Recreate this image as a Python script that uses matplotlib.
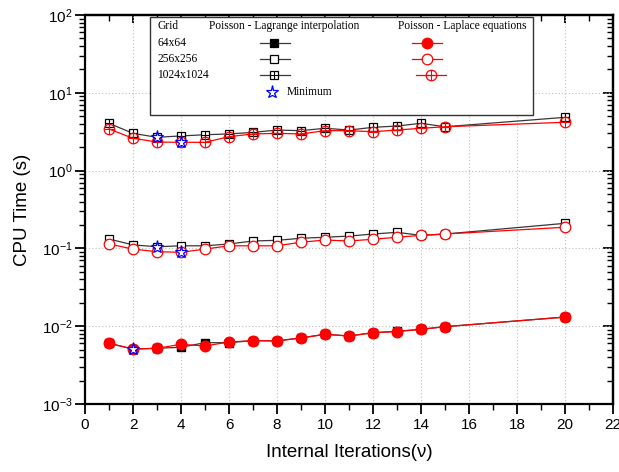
import matplotlib
matplotlib.use("Agg")
import matplotlib.pyplot as plt
from matplotlib.lines import Line2D
from matplotlib.patches import Rectangle
from matplotlib.ticker import LogLocator, MultipleLocator, NullFormatter

plt.rcParams['font.family'] = ['Liberation Sans', 'DejaVu Sans']
plt.rcParams['mathtext.fontset'] = 'custom'
plt.rcParams['mathtext.rm'] = 'Liberation Sans'
plt.rcParams['mathtext.default'] = 'regular'

# ---------------- data ----------------
iterations = [1, 2, 3, 4, 5, 6, 7, 8, 9, 10, 11, 12, 13, 14, 15, 20]

lagrange_64 = [0.00603, 0.00509, 0.00520, 0.00536, 0.00614, 0.00614, 0.00652, 0.00647,
               0.00706, 0.00787, 0.00748, 0.00825, 0.00863, 0.00912, 0.00986, 0.0131]
laplace_64 = [0.00603, 0.00509, 0.00520, 0.00585, 0.00557, 0.00627, 0.00652, 0.00647,
              0.00706, 0.00787, 0.00748, 0.00825, 0.00850, 0.00912, 0.00986, 0.0131]

lagrange_256 = [0.132, 0.111, 0.105, 0.108, 0.108, 0.114, 0.1245, 0.127,
                0.135, 0.139, 0.144, 0.153, 0.161, 0.147, 0.153, 0.210]
laplace_256 = [0.114, 0.098, 0.0907, 0.0891, 0.098, 0.108, 0.108, 0.108,
               0.120, 0.128, 0.1245, 0.131, 0.139, 0.147, 0.153, 0.187]

lagrange_1024 = [4.05, 3.01, 2.68, 2.79, 2.89, 2.96, 3.10, 3.32,
                 3.26, 3.50, 3.32, 3.60, 3.74, 4.05, 3.66, 4.84]
laplace_1024 = [3.43, 2.60, 2.33, 2.31, 2.31, 2.73, 2.96, 3.01,
                2.96, 3.26, 3.26, 3.16, 3.32, 3.50, 3.66, 4.18]

min_x = [2, 3, 4, 3, 4]
min_y = [0.00509, 2.68, 2.31, 0.105, 0.0891]

grid_labels = ["64x64", "256x256", "1024x1024"]

# ---------------- figure ----------------
fig = plt.figure(figsize=(6.19, 4.72), dpi=100)
L, R, T, B = 85, 613, 15, 404
W, H = 619, 472
ax = fig.add_axes([L / W, 1 - B / H, (R - L) / W, (B - T) / H])

ax.set_yscale('log')
ax.set_xlim(0, 22)
ax.set_ylim(1e-3, 1e2)

gridkw = dict(color='#bdbdbd', linestyle=(0, (1, 2)), linewidth=0.8)
ax.grid(True, which='major', **gridkw)
ax.set_axisbelow(True)

lag_kw = dict(color='#383838', linewidth=0.9, zorder=3)
lap_kw = dict(color='red', linewidth=0.9, zorder=4)
sq = 6.3
ci = 7.6

# Lagrange (black squares)
ax.plot(iterations, lagrange_64, marker='s', ms=sq, mfc='black', mec='black', **lag_kw)
ax.plot(iterations, lagrange_256, marker='s', ms=sq, mfc='white', mec='black', mew=0.9, **lag_kw)
ax.plot(iterations, lagrange_1024, marker='s', ms=sq, mfc='white', mec='black', mew=0.9, **lag_kw)
ax.plot(iterations, lagrange_1024, linestyle='none', marker='+', ms=sq, mec='black', mew=0.8, zorder=3.5)

# Laplace (red circles)
ax.plot(iterations, laplace_64, marker='o', ms=ci, mfc='red', mec='red', **lap_kw)
ax.plot(iterations, laplace_256, marker='o', ms=ci, mfc='white', mec='red', mew=0.9, **lap_kw)
ax.plot(iterations, laplace_1024, marker='o', ms=ci, mfc='none', mec='red', mew=0.9, **lap_kw)
ax.plot(iterations, laplace_1024, linestyle='none', marker='+', ms=ci, mec='red', mew=0.8, zorder=4.5)

# minimum stars
ax.plot(min_x, min_y, linestyle='none', marker='*', ms=9.5, mfc='white', mec='blue', mew=0.9, zorder=6)

# ---------------- axes styling ----------------
for s in ax.spines.values():
    s.set_linewidth(1.6)

ax.xaxis.set_major_locator(MultipleLocator(2))
ax.xaxis.set_minor_locator(MultipleLocator(1))
ax.yaxis.set_major_locator(LogLocator(base=10, numticks=10))
ax.yaxis.set_minor_locator(LogLocator(base=10, subs=range(2, 10), numticks=20))
ax.yaxis.set_minor_formatter(NullFormatter())

ax.tick_params(axis='both', which='major', direction='out', length=7, width=1.3,
               labelsize=11, top=False, right=False)
ax.tick_params(axis='both', which='minor', direction='out', length=4, width=1.0,
               top=False, right=False)
ax.tick_params(axis='x', which='major', pad=3)
ax.tick_params(axis='y', which='major', pad=2)

# mirrored inward ticks on top and right
secx = ax.secondary_xaxis('top')
secx.xaxis.set_major_locator(MultipleLocator(2))
secx.xaxis.set_minor_locator(MultipleLocator(1))
secx.tick_params(which='major', direction='in', length=6, width=1.3, labeltop=False)
secx.tick_params(which='minor', direction='in', length=4, width=1.0)
secx.spines['top'].set_linewidth(1.6)

secy = ax.secondary_yaxis('right')
secy.yaxis.set_major_locator(LogLocator(base=10, numticks=10))
secy.yaxis.set_minor_locator(LogLocator(base=10, subs=range(2, 10), numticks=20))
secy.yaxis.set_minor_formatter(NullFormatter())
secy.tick_params(which='major', direction='in', length=7, width=1.3, labelright=False)
secy.tick_params(which='minor', direction='in', length=4, width=1.0)
secy.spines['right'].set_linewidth(1.6)

ax.set_xlabel('Internal Iterations(\u03bd)', fontsize=13.5, labelpad=9)
ax.set_ylabel('CPU Time (s)', fontsize=13.5, labelpad=8)

# ---------------- legend box ----------------
def fx(px):
    return (px - L) / (R - L)

def fy(py):
    return (B - py) / (B - T)

tr = ax.transAxes
ax.add_patch(Rectangle((fx(150), fy(115)), fx(533) - fx(150), fy(17) - fy(115),
                       transform=tr, facecolor='white', edgecolor='#333333',
                       linewidth=1.0, zorder=7))
lfont = dict(family=['Liberation Serif', 'DejaVu Serif'], fontsize=8.3, transform=tr,
             va='center', ha='left', zorder=8)
ax.text(fx(157), fy(26), 'Grid', **lfont)
ax.text(fx(209), fy(26), 'Poisson - Lagrange interpolation', **lfont)
ax.text(fx(398), fy(26), 'Poisson - Laplace equations', **lfont)

rows_y = [42.7, 59, 75]
lag_styles = [dict(marker='s', mfc='black', mec='black'),
              dict(marker='s', mfc='white', mec='black'),
              dict(marker='s', mfc='white', mec='black')]
lap_styles = [dict(marker='o', mfc='red', mec='red'),
              dict(marker='o', mfc='white', mec='red'),
              dict(marker='o', mfc='none', mec='red')]
lap_shift = [0, 0, 4]
for i, (lab, ry) in enumerate(zip(grid_labels, rows_y)):
    ax.text(fx(157), fy(ry), lab, **lfont)
    y = fy(ry)
    ax.add_line(Line2D([fx(260), fx(290)], [y, y], color='#383838', lw=0.9,
                       transform=tr, zorder=8))
    ax.add_line(Line2D([fx(274)], [y], linestyle='none', ms=sq, mew=0.9,
                       transform=tr, zorder=9, **lag_styles[i]))
    s = lap_shift[i]
    ax.add_line(Line2D([fx(412 + s), fx(442 + s)], [y, y], color='red', lw=0.9,
                       transform=tr, zorder=8))
    ax.add_line(Line2D([fx(427 + s)], [y], linestyle='none', ms=ci, mew=0.9,
                       transform=tr, zorder=9, **lap_styles[i]))
    if i == 2:
        ax.add_line(Line2D([fx(274)], [y], linestyle='none', marker='+', ms=sq,
                           mec='black', mew=0.8, transform=tr, zorder=10))
        ax.add_line(Line2D([fx(427 + s)], [y], linestyle='none', marker='+', ms=ci,
                           mec='red', mew=0.8, transform=tr, zorder=10))

ax.add_line(Line2D([fx(272)], [fy(91.7)], linestyle='none', marker='*', ms=9.5,
                   mfc='white', mec='blue', mew=0.9, transform=tr, zorder=9))
ax.text(fx(287), fy(91.7), 'Minimum', **lfont)

fig.savefig('out.png', dpi=100)
